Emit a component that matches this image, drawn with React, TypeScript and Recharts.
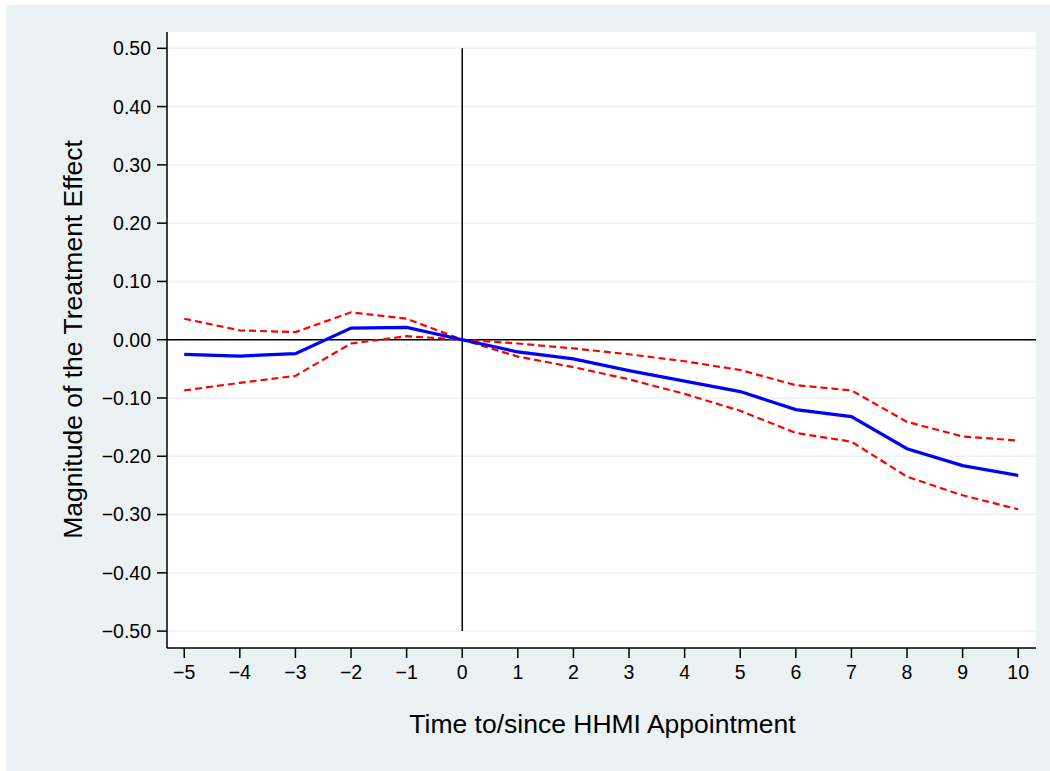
import React from "react";
import { LineChart, Line, XAxis, YAxis, CartesianGrid, ReferenceLine, Label } from "recharts";

const years = [-5, -4, -3, -2, -1, 0, 1, 2, 3, 4, 5, 6, 7, 8, 9, 10];
const estimate = [-0.025, -0.028, -0.024, 0.02, 0.021, 0, -0.021, -0.033, -0.053, -0.071, -0.089, -0.12, -0.132, -0.187, -0.216, -0.233];
const upperCI = [0.036, 0.016, 0.013, 0.047, 0.036, 0, -0.0065, -0.015, -0.025, -0.037, -0.052, -0.078, -0.087, -0.141, -0.166, -0.173];
const lowerCI = [-0.087, -0.074, -0.062, -0.0065, 0.006, 0, -0.029, -0.047, -0.068, -0.093, -0.122, -0.16, -0.175, -0.235, -0.267, -0.291];
const yTicks = [-0.5, -0.4, -0.3, -0.2, -0.1, 0, 0.1, 0.2, 0.3, 0.4, 0.5];
const xTicks = years;
const xTitle = "Time to/since HHMI Appointment";
const yTitle = "Magnitude of the Treatment Effect";

const data = years.map((t, i) => ({ t, est: estimate[i], hi: upperCI[i], lo: lowerCI[i] }));

const FONT = "'Liberation Sans', Arial, Helvetica, sans-serif";
const BG = "#eaf2f3";

const fmtNum = (v: number) => {
  const s = Math.abs(v).toFixed(2);
  return v < -1e-9 ? "\u2212" + s : s;
};
const fmtX = (v: number) => (v < 0 ? "\u2212" + Math.abs(v) : String(v));

export default function App() {
  return (
    <div style={{ position: "absolute", left: 0, top: 0, width: 1050, height: 771, background: "#fff" }}>
      <div style={{ position: "absolute", left: 6, top: 5, width: 1044, height: 766, background: BG }}>
        <LineChart
          width={1044}
          height={766}
          data={data}
          margin={{ top: 27, right: 14, bottom: 63, left: 81 }}
          style={{ fontFamily: FONT }}
        >
          <CartesianGrid vertical={false} horizontal stroke={BG} strokeWidth={1.5} fill="#ffffff" horizontalValues={yTicks} />
          <XAxis
            dataKey="t"
            type="number"
            domain={[-5.31, 10.32]}
            ticks={xTicks}
            allowDataOverflow
            tickFormatter={fmtX}
            tickSize={10}
            tickMargin={7}
            height={60}
            stroke="#000"
            tick={{ fill: "#000", fontSize: 19.5, fontFamily: FONT }}
            axisLine={{ stroke: "#000", strokeWidth: 1.5 }}
            tickLine={{ stroke: "#000", strokeWidth: 1.5 }}
          >
            <Label
              content={() => (
                <text x={596.5} y={728} textAnchor="middle" fontSize={26.5} fontFamily={FONT} fill="#000">
                  {xTitle}
                </text>
              )}
            />
          </XAxis>
          <YAxis
            type="number"
            domain={[-0.529, 0.528]}
            ticks={yTicks}
            allowDataOverflow
            tickFormatter={fmtNum}
            tickSize={10}
            tickMargin={6}
            width={80}
            stroke="#000"
            tick={{ fill: "#000", fontSize: 19.5, fontFamily: FONT }}
            axisLine={{ stroke: "#000", strokeWidth: 1.5 }}
            tickLine={{ stroke: "#000", strokeWidth: 1.5 }}
          >
            <Label
              content={() => (
                <text
                  x={76.3}
                  y={334.5}
                  transform="rotate(-90 76.3 334.5)"
                  textAnchor="middle"
                  fontSize={26.5}
                  fontFamily={FONT}
                  fill="#000"
                >
                  {yTitle}
                </text>
              )}
            />
          </YAxis>
          <ReferenceLine y={0} stroke="#000" strokeWidth={1.5} />
          <ReferenceLine
            segment={[
              { x: 0, y: -0.5 },
              { x: 0, y: 0.5 },
            ]}
            stroke="#000"
            strokeWidth={1.5}
          />
          <Line dataKey="hi" stroke="#ff0000" strokeWidth={2.2} strokeDasharray="7 4" dot={false} isAnimationActive={false} />
          <Line dataKey="lo" stroke="#ff0000" strokeWidth={2.2} strokeDasharray="7 4" dot={false} isAnimationActive={false} />
          <Line dataKey="est" stroke="#0000ff" strokeWidth={3.2} dot={false} isAnimationActive={false} />
        </LineChart>
      </div>
    </div>
  );
}
